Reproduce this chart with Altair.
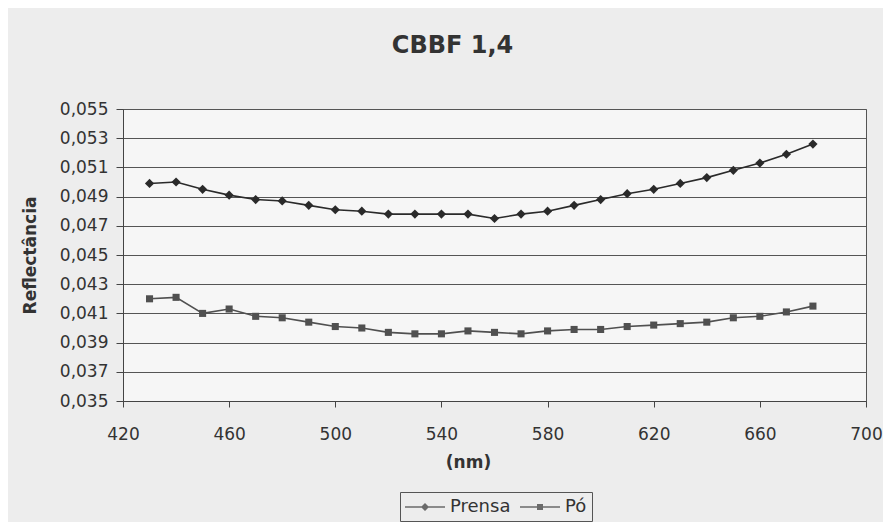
import altair as alt
import pandas as pd

wavelength = [430, 440, 450, 460, 470, 480, 490, 500, 510, 520, 530, 540, 550,
              560, 570, 580, 590, 600, 610, 620, 630, 640, 650, 660, 670, 680]
prensa = [0.0499, 0.0500, 0.0495, 0.0491, 0.0488, 0.0487, 0.0484, 0.0481, 0.0480,
          0.0478, 0.0478, 0.0478, 0.0478, 0.0475, 0.0478, 0.0480, 0.0484, 0.0488,
          0.0492, 0.0495, 0.0499, 0.0503, 0.0508, 0.0513, 0.0519, 0.0526]
po = [0.0420, 0.0421, 0.0410, 0.0413, 0.0408, 0.0407, 0.0404, 0.0401, 0.0400,
      0.0397, 0.0396, 0.0396, 0.0398, 0.0397, 0.0396, 0.0398, 0.0399, 0.0399,
      0.0401, 0.0402, 0.0403, 0.0404, 0.0407, 0.0408, 0.0411, 0.0415]
series_names = ["Prensa", "Pó"]
x_ticks = [420, 460, 500, 540, 580, 620, 660, 700]
y_ticks = [0.035, 0.037, 0.039, 0.041, 0.043, 0.045, 0.047, 0.049, 0.051, 0.053, 0.055]

rows = []
for name, vals in zip(series_names, [prensa, po]):
    for w, v in zip(wavelength, vals):
        rows.append({"nm": w, "refl": v, "series": name})
df = pd.DataFrame(rows)

FONT = "DejaVu Sans"
INK = "#333333"

x = alt.X("nm:Q",
          scale=alt.Scale(domain=[420, 700], nice=False, zero=False),
          axis=alt.Axis(values=x_ticks, grid=False, title="(nm)", tickSize=6,
                        labelFlush=False,
                        labelPadding=19, labelFontSize=17, labelFont=FONT,
                        labelColor=INK, domainColor="#444", tickColor="#444",
                        titleFont=FONT, titleFontSize=17, titleFontWeight="bold",
                        titleColor=INK, titleX=345, titleY=70,
                        titleAlign="center", titleBaseline="bottom"))
y = alt.Y("refl:Q",
          scale=alt.Scale(domain=[0.035, 0.055], nice=False, zero=False),
          axis=alt.Axis(values=y_ticks, grid=True, gridColor="#555", gridWidth=1,
                        labelFlush=False,
                        labelExpr="replace(format(datum.value, '.3f'), '.', ',')",
                        tickSize=7, labelPadding=8, labelFontSize=17, labelFont=FONT,
                        labelColor=INK, domainColor="#444", tickColor="#444",
                        title="Reflectância", titleFont=FONT, titleFontSize=17,
                        titleFontWeight="bold", titleColor=INK, titleAngle=270,
                        titleX=-93, titleY=146, titleAlign="center",
                        titleBaseline="middle"))

color = alt.Color("series:N", scale=alt.Scale(domain=series_names,
                                              range=["#2a2a2a", "#505050"]),
                  legend=None)

lines = alt.Chart(df).mark_line(strokeWidth=1.6).encode(x=x, y=y, color=color)

points = alt.Chart(df).mark_point(filled=True, opacity=1).encode(
    x=x, y=y, color=color,
    shape=alt.Shape("series:N", scale=alt.Scale(domain=series_names,
                                                range=["diamond", "square"]),
                    legend=None),
    size=alt.Size("series:N", scale=alt.Scale(domain=series_names, range=[85, 50]),
                  legend=None),
)

# legend glyphs: a thin bar (the line) plus the marker, all as filled shapes
legend_paths = [
    "M-2,-0.075L2,-0.075L2,0.075L-2,0.075Z M-0.4,0L0,-0.4L0.4,0L0,0.4Z",
    "M-2,-0.075L2,-0.075L2,0.075L-2,0.075Z M-0.3,-0.3L0.3,-0.3L0.3,0.3L-0.3,0.3Z",
]
legend_layer = alt.Chart(df).mark_point(size=0, filled=True, color=INK).encode(
    x=x, y=y,
    shape=alt.Shape("series:N",
                    scale=alt.Scale(domain=series_names, range=legend_paths),
                    legend=alt.Legend(title=None, orient="none", legendX=277,
                                      legendY=383, direction="horizontal",
                                      strokeColor="#555", padding=5,
                                      symbolSize=400, symbolStrokeWidth=0,
                                      symbolFillColor=INK, symbolOffset=10,
                                      labelFont=FONT, labelFontSize=18,
                                      labelColor=INK, labelOffset=15,
                                      columnPadding=9)),
)

chart = alt.layer(lines, points, legend_layer).resolve_scale(
    shape="independent").resolve_legend(shape="independent").properties(
    width=743, height=292,
    title=alt.Title("CBBF 1,4", font=FONT, fontSize=24, fontWeight="bold",
                    color=INK, anchor="middle", dx=-42, offset=42),
    autosize=alt.AutoSizeParams(type="none"),
    padding={"left": 115, "top": 101, "right": 17, "bottom": 121},
    background="#ededed",
).configure_view(stroke="#555", fill="#f6f6f6")

chart.save("out.html", embed_options={"renderer": "svg", "actions": False})
